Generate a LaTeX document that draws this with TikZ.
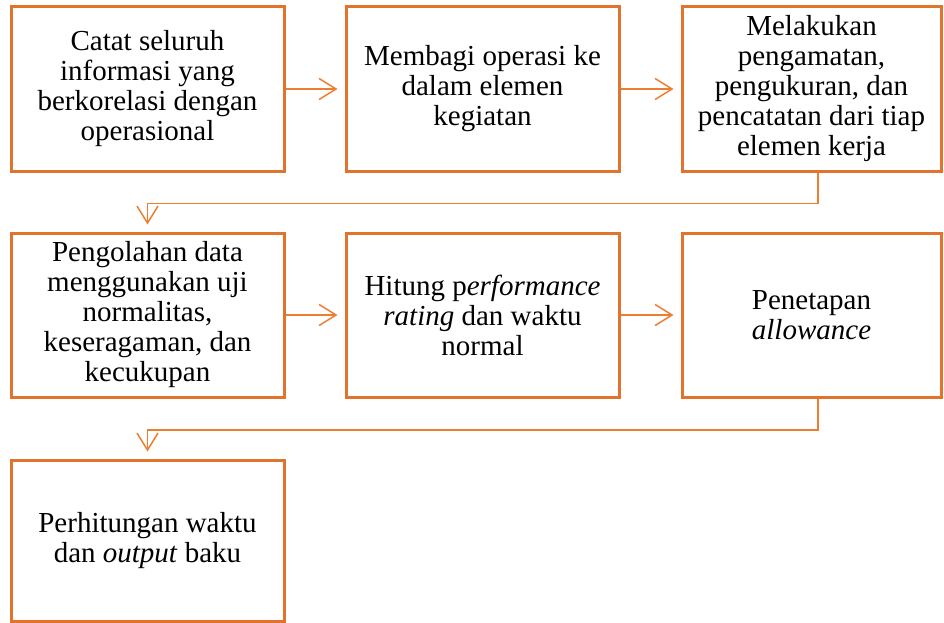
\documentclass[tikz,border=0pt]{standalone}
\usepackage{fontspec}
\setmainfont{Liberation Serif}
\usetikzlibrary{arrows.meta}
\definecolor{flow}{RGB}{237,125,49}
\definecolor{boxline}{RGB}{226,115,45}
\begin{document}
\begin{tikzpicture}[x=1pt,y=1pt,
  stepbox/.style={draw=boxline, line width=3pt, fill=white, align=center,
    minimum width=273pt, minimum height=164pt, inner sep=4pt,
    font=\fontsize{29}{30}\selectfont},
  conn/.style={draw=flow, line width=1.5pt,
    -{Straight Barb[length=17pt,width=21pt,line width=1.5pt]}, shorten >=7pt}]
  \useasboundingbox (0,0) rectangle (944,-623);

  % first row
  \node[stepbox] (b1) at (147.5,-89) {Catat seluruh\\informasi yang\\berkorelasi dengan\\operasional};
  \node[stepbox] (b2) at (482.5,-89) {Membagi operasi ke\\dalam elemen\\kegiatan};
  \node[stepbox, minimum width=259pt] (b3) at (811.5,-89) {Melakukan\\pengamatan,\\pengukuran, dan\\pencatatan dari tiap\\elemen kerja};

  % second row
  \node[stepbox] (b4) at (147.5,-315) {Pengolahan data\\menggunakan uji\\normalitas,\\keseragaman, dan\\kecukupan};
  \node[stepbox] (b5) at (482.5,-315) {Hitung p\textit{erformance}\\\textit{rating} dan waktu\\normal};
  \node[stepbox, minimum width=259pt] (b6) at (811.5,-315) {Penetapan\\\textit{allowance}};

  % third row
  \node[stepbox, minimum height=161pt] (b7) at (147.5,-540.5) {Perhitungan waktu\\dan \textit{output} baku};

  % connectors
  \draw[conn] (b1.east) -- (b2.west);
  \draw[conn] (b2.east) -- (b3.west);
  \draw[conn] ([xshift=6.5pt]b3.south) -- ++(0,-31) -| (b4.north);
  \draw[conn] (b4.east) -- (b5.west);
  \draw[conn] (b5.east) -- (b6.west);
  \draw[conn] ([xshift=6.5pt]b6.south) -- ++(0,-31.5) -| (b7.north);
\end{tikzpicture}
\end{document}
